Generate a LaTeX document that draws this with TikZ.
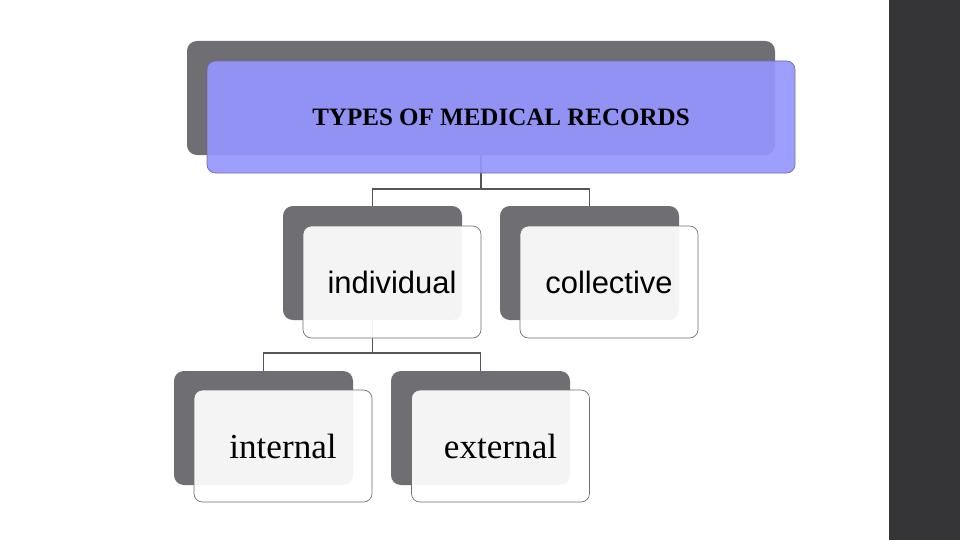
\documentclass[tikz,border=0pt]{standalone}
\usepackage{fontspec}
\setmainfont{Liberation Serif}
\newfontfamily\letrasans{Liberation Sans}
\usetikzlibrary{positioning,backgrounds}
\definecolor{csombra}{HTML}{6F6E73}
\definecolor{cazul}{HTML}{9696FF}
\definecolor{cazulb}{HTML}{6E6E9A}
\definecolor{cbordeg}{HTML}{707070}
\definecolor{clinea}{HTML}{555555}
\definecolor{cbanda}{HTML}{353537}
\tikzset{
  sombra/.style={fill=csombra,rounded corners=7pt,inner sep=0pt,
                 minimum width=44.75mm,minimum height=28.5mm},
  tarjeta/.style={draw=cbordeg,fill=white,fill opacity=0.93,text opacity=1,
                  rounded corners=6pt,inner sep=0pt,line width=0.5pt,
                  minimum width=44.5mm,minimum height=28mm},
  tarjetaa/.style={tarjeta,draw=cazulb,fill=cazul,fill opacity=0.92,
                   minimum width=147mm},
  canal/.style={draw=clinea,line width=1.4pt},
  txts/.style={font=\letrasans\fontsize{22}{24}\selectfont},
  txtr/.style={font=\fontsize{25}{28}\selectfont},
}

\begin{document}
\begin{tikzpicture}[x=1cm,y=1cm]
\useasboundingbox (0,0) rectangle (24,13.5);
\fill[cbanda] (22.225,0) rectangle (24,13.5);

% ---------------- sombras ----------------
\node[sombra,minimum width=147mm] (t0) at (12.025,11.05) {};
\node[sombra] (i0) at (9.3125,6.925) {};
\node[sombra] (c0) at (14.7375,6.925) {};
\node[sombra] (n0) at (6.5875,2.8) {};
\node[sombra] (e0) at (12.0125,2.8) {};

% ---------------- conectores ----------------
\draw[canal] (t0.south) -- ++(0,-0.85) -| (i0.north);
\draw[canal] (t0.south) -- ++(0,-0.85) -| (c0.north);
\draw[canal] (i0.south) -- ++(0,-0.825) -| (n0.north);
\draw[canal] (i0.south) -- ++(0,-0.825) -| (e0.north);

% ---------------- tarjetas ----------------
\node[tarjetaa,font=\bfseries\fontsize{17.8}{20}\selectfont] (t1) at (12.525,10.575)
  {TYPES OF MEDICAL RECORDS};
\node[tarjeta,txts] (i1) at (9.8,6.45)    {individual};
\node[tarjeta,txts] (c1) at (15.225,6.45) {collective};
\node[tarjeta,txtr] (n1) at (7.075,2.35)  {internal};
\node[tarjeta,txtr] (e1) at (12.5125,2.35) {external};

\end{tikzpicture}
\end{document}
